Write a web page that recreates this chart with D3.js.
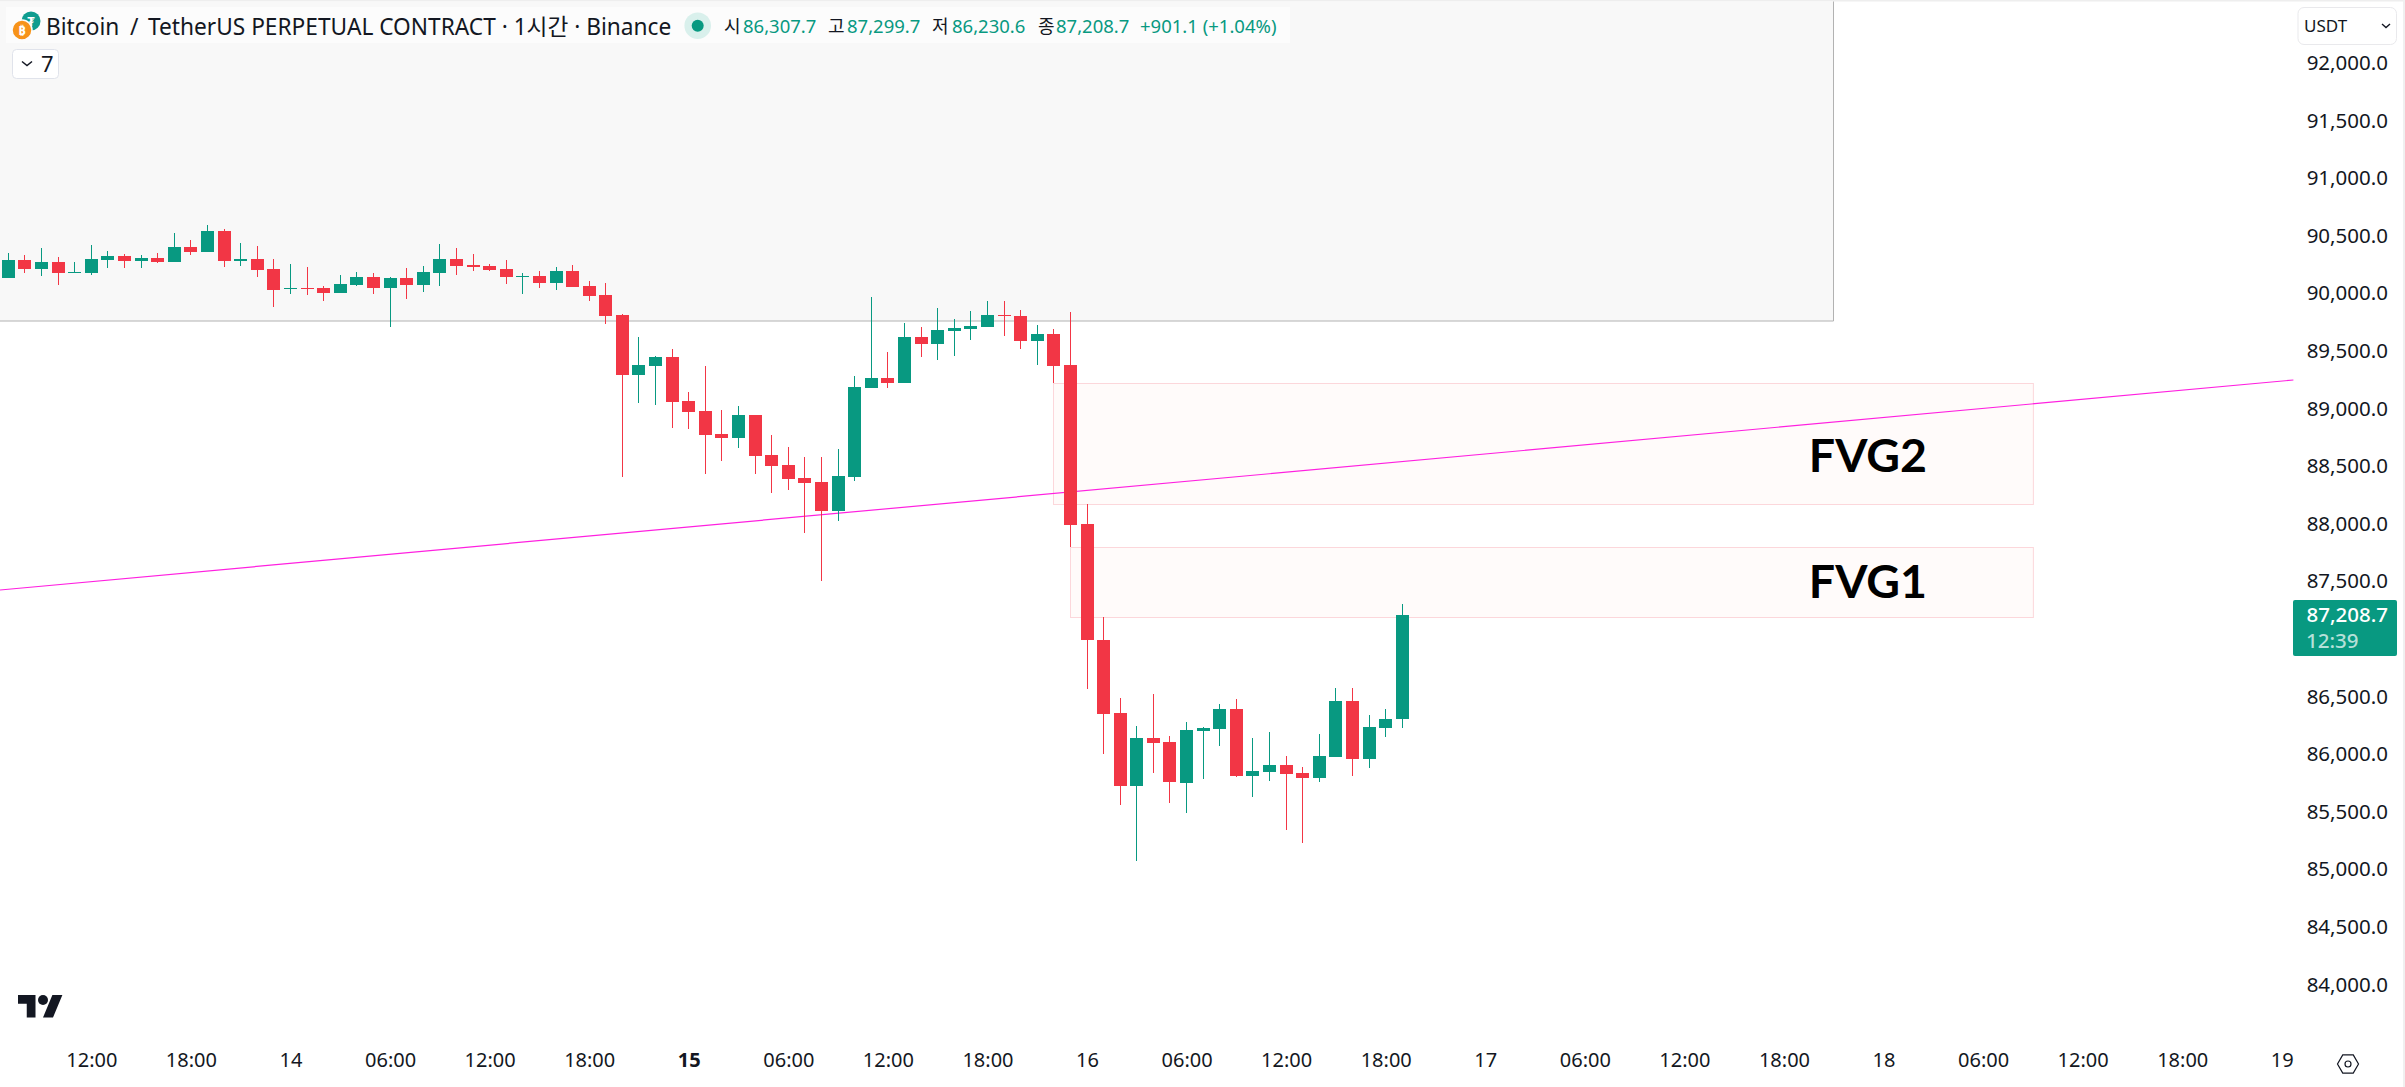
<!DOCTYPE html>
<html><head><meta charset="utf-8">
<script src="https://cdn.jsdelivr.net/npm/d3@7/dist/d3.min.js"></script>
<style>html,body{margin:0;padding:0;background:#fff;overflow:hidden}svg{display:block}
text{font-family:"Noto Sans","Noto Sans CJK KR",sans-serif;fill:#131722}</style>
</head><body><svg id="c" width="2405" height="1087"></svg>
<script>
const opens=[90134,90290,90212,90272,90177,90177,90290,90325,90281,90307,90272,90403,90359,90542,90281,90298,90212,90038,90047,90047,90003,90073,90142,90047,90134,90073,90177,90298,90246,90238,90212,90142,90151,90090,90194,90064,89986,89812,89292,89370,89448,89066,88979,88779,88745,88944,88597,88510,88397,88363,88111,88406,89179,89265,89222,89621,89561,89673,89691,89708,89812,89804,89587,89647,89378,87998,86992,86357,85723,86140,86105,85749,86201,86218,86392,85810,85845,85906,85836,85793,85975,86461,85958,86227,86307.7];
const highs=[90351,90333,90394,90316,90272,90420,90368,90342,90333,90351,90524,90463,90594,90559,90437,90411,90298,90255,90229,90064,90160,90186,90177,90142,90220,90238,90429,90394,90342,90255,90290,90177,90194,90229,90246,90108,90090,89821,89621,89456,89517,89144,89370,88988,89022,88944,88771,88666,88580,88580,88649,89283,89969,89491,89743,89708,89873,89778,89847,89934,89934,89856,89726,89691,89838,88172,87191,86487,86244,86522,86157,86279,86236,86435,86479,86140,86192,85984,85888,86175,86574,86574,86340,86392,87299.7];
const lows=[90134,90177,90151,90073,90177,90160,90220,90220,90220,90264,90272,90333,90359,90229,90238,90142,89882,89995,89986,89934,90003,90064,89995,89708,89951,90012,90064,90160,90194,90194,90082,89995,90047,90029,90055,89934,89734,88406,89048,89031,88831,88823,88432,88545,88658,88432,88267,88293,87920,87503,88024,88371,89179,89179,89222,89448,89422,89456,89595,89708,89630,89517,89378,89222,87798,86567,86001,85558,85072,85836,85576,85489,85784,86071,85802,85628,85767,85341,85229,85758,85975,85810,85880,86149,86230.6];
const closes=[90290,90212,90272,90177,90186,90298,90325,90281,90307,90272,90403,90359,90542,90281,90298,90203,90029,90047,90038,90003,90082,90142,90047,90134,90073,90186,90298,90238,90229,90203,90142,90151,90090,90194,90055,89977,89804,89292,89378,89448,89057,88970,88771,88745,88944,88588,88501,88389,88354,88111,88415,89187,89265,89222,89621,89561,89682,89700,89717,89812,89804,89587,89647,89370,87989,86992,86349,85723,86140,86097,85758,86210,86227,86392,85810,85854,85906,85828,85793,85984,86461,85958,86236,86305,87208.7];
const priceTicks=[92000,91500,91000,90500,90000,89500,89000,88500,88000,87500,86500,86000,85500,85000,84500,84000];
const timeTickHours=[5,11,17,23,29,35,41,47,53,59,65,71,77,83,89,95,101,107,113,119,125,131,137];
const timeTickLabels=["12:00","18:00","14","06:00","12:00","18:00","15","06:00","12:00","18:00","16","06:00","12:00","18:00","17","06:00","12:00","18:00","18","06:00","12:00","18:00","19"];
const zoneNames=["FVG2","FVG1"];
const zoneTop=[89222,87798];
const zoneBottom=[88172,87191];
const zoneStart=[63,64];
const zoneEnd=[122,122];
const zoneLabelPrice=[88449,87355];
const zoneLabelHour=108.5;
const trendHours=[-0.507,137.7];
const trendPrices=[87425,89248];
const lastPrice=87208.7, countdown="12:39";
const titleParts=["Bitcoin","/","TetherUS PERPETUAL CONTRACT · 1시간 · Binance"];
const ohlcLabels=["시","고","저","종"];
const ohlcValues=["86,307.7","87,299.7","86,230.6","87,208.7"];
const changeText="+901.1 (+1.04%)";

const GREEN="#089981",RED="#f23645",INK="#131722";
const svg=d3.select("#c");
const x=d3.scaleLinear().domain([0,84]).range([8.4,1402.3]);
const y=d3.scaleLinear().domain([92000,84000]).range([63,984.5]);

svg.append("rect").attr("width",2405).attr("height",1.5).attr("fill","#eeeeee");
svg.append("rect").attr("x",2403).attr("width",2).attr("height",1087).attr("fill","#f0f0f0");
// grey overlay panel: fill plus right and bottom edges only
svg.append("rect").attr("x",0).attr("y",1.5).attr("width",1833).attr("height",319.5).attr("fill","#f8f8f8");
svg.append("path").attr("d","M0 321H1833.5V1.5").attr("fill","none").attr("stroke","#b2b2b2").attr("stroke-width",1);

// zones
const zones=d3.range(zoneNames.length);
svg.append("g").selectAll("rect").data(zones).join("rect")
  .attr("x",i=>Math.floor(x(zoneStart[i]))+.5).attr("width",i=>x(zoneEnd[i])-Math.floor(x(zoneStart[i])))
  .attr("y",i=>Math.round(y(zoneTop[i]))+.5).attr("height",i=>Math.round(y(zoneBottom[i]))-Math.round(y(zoneTop[i])))
  .attr("fill","#fffbfa").attr("stroke","#fcd7db").attr("stroke-width",1);

// trend line
svg.append("path").attr("d",d3.line().x(d=>x(d)).y((d,i)=>y(trendPrices[i]))(trendHours))
  .attr("fill","none").attr("stroke","#ff20e0").attr("stroke-width",1.2);

svg.append("g").selectAll("text").data(zones).join("text")
  .attr("x",x(zoneLabelHour)).attr("y",i=>y(zoneLabelPrice[i]))
  .style("font-family","Lato").style("font-weight",700).style("font-size","46.5px").style("fill","#000")
  .text(i=>zoneNames[i]);

// candles
const cands=d3.range(opens.length);
const g=svg.append("g").attr("shape-rendering","crispEdges");
const col=i=>closes[i]>=opens[i]?GREEN:RED;
g.selectAll("line").data(cands).join("line")
  .attr("x1",i=>Math.floor(x(i))+.5).attr("x2",i=>Math.floor(x(i))+.5)
  .attr("y1",i=>y(highs[i])).attr("y2",i=>y(lows[i])).attr("stroke",col).attr("stroke-width",1);
g.selectAll("rect").data(cands).join("rect")
  .attr("x",i=>Math.floor(x(i))-6).attr("width",13)
  .attr("y",i=>y(Math.max(opens[i],closes[i])))
  .attr("height",i=>Math.max(1,y(Math.min(opens[i],closes[i]))-y(Math.max(opens[i],closes[i]))))
  .attr("fill",col);

// axes
const ya=svg.append("g").attr("transform","translate(2388,0)")
  .call(d3.axisLeft(y).tickValues(priceTicks).tickSize(0).tickPadding(0).tickFormat(d3.format(",.1f")));
ya.select(".domain").remove();
ya.selectAll("text").style("font-family",'"Noto Sans"').style("font-size","20.5px").style("fill",INK);
const xa=svg.append("g").attr("transform","translate(0,1053)")
  .call(d3.axisBottom(x).tickValues(timeTickHours).tickSize(0).tickPadding(0).tickFormat((d,i)=>timeTickLabels[i]));
xa.select(".domain").remove();
xa.selectAll("text").style("font-family",'"Noto Sans"').style("font-size","20px").style("fill",INK)
  .style("font-weight",(d,i)=>timeTickLabels[i]==="15"?700:400);

// price tag
svg.append("rect").attr("x",2293).attr("y",600).attr("width",104).attr("height",56).attr("rx",2).attr("fill",GREEN);
svg.append("text").attr("x",2388).attr("y",622).attr("text-anchor","end")
  .style("font-size","20.5px").style("font-weight",500).style("fill","#fff").text(d3.format(",.1f")(lastPrice));
svg.append("text").attr("x",2306).attr("y",648)
  .style("font-size","20.5px").style("font-weight",500).style("fill","#b5e0d9").text(countdown);
// USDT button
svg.append("rect").attr("x",2298).attr("y",7.5).attr("width",98.5).attr("height",37).attr("rx",6).attr("fill","#fff").attr("stroke","#e9e9ec");
svg.append("text").attr("x",2304).attr("y",32).style("font-size","17px").text("USDT");
svg.append("path").attr("d","M2382 24l4 3.5 4-3.5").attr("fill","none").attr("stroke",INK).attr("stroke-width",1.4);
// settings icon
svg.append("path").attr("d",d3.lineRadial().curve(d3.curveLinearClosed).angle(d=>(d+.5)*Math.PI/3).radius(10.5)([0,1,2,3,4,5]))
  .attr("transform","translate(2348,1064)").attr("fill","none").attr("stroke",INK).attr("stroke-width",1.2);
svg.append("circle").attr("cx",2348).attr("cy",1064).attr("r",3).attr("fill","none").attr("stroke",INK).attr("stroke-width",1.2);
// TV logo
svg.append("path").attr("transform","translate(18,990) scale(1.25)").attr("fill",INK)
  .attr("d","M14 22H7V11H0V4h14v18zM28 22h-8l7.5-18h8L28 22z");
svg.append("circle").attr("transform","translate(18,990) scale(1.25)").attr("cx",20).attr("cy",8).attr("r",4).attr("fill",INK);

// header
svg.append("rect").attr("x",6).attr("y",7).attr("width",1284).attr("height",36).attr("fill","#fcfcfc");
svg.append("circle").attr("cx",31).attr("cy",21).attr("r",9.5).attr("fill","#0f9d8f");
svg.append("text").attr("x",31).attr("y",26).attr("text-anchor","middle").style("font-size","13px").style("font-weight",700).style("fill","#fff").text("₮");
svg.append("circle").attr("cx",22).attr("cy",30).attr("r",10).attr("fill","#f7931a").attr("stroke","#fcfcfc").attr("stroke-width",1.5);
svg.append("text").attr("x",22).attr("y",35).attr("text-anchor","middle").style("font-size","13px").style("font-weight",700).style("fill","#fff").text("₿");
const tf='"Noto Sans","Noto Sans CJK KR"';
[[46,titleParts[0]],[130,titleParts[1]],[148,titleParts[2]]].forEach(([px,t])=>
  svg.append("text").attr("x",px).attr("y",34.5).style("font-family",tf).style("font-size","22.7px").text(t));
svg.append("circle").attr("cx",697.7).attr("cy",25.7).attr("r",13.3).attr("fill","#d9f0ec");
svg.append("circle").attr("cx",697.7).attr("cy",25.7).attr("r",6).attr("fill",GREEN);
const lx=[724,828,932,1038], vx=[743,847,952,1056];
ohlcLabels.forEach((l,i)=>{
  svg.append("text").attr("x",lx[i]).attr("y",33).style("font-size","18px").text(l);
  svg.append("text").attr("x",vx[i]).attr("y",33).style("font-size","18.5px").style("fill",GREEN).text(ohlcValues[i]);
});
svg.append("text").attr("x",1140).attr("y",33).style("font-size","18.5px").style("fill",GREEN).text(changeText);
// collapse button
svg.append("rect").attr("x",12.5).attr("y",49.5).attr("width",46).attr("height",29).attr("rx",4).attr("fill","#fff").attr("stroke","#e0e3eb");
svg.append("path").attr("d","M22 61.5l5 4 5-4").attr("fill","none").attr("stroke",INK).attr("stroke-width",1.5);
svg.append("text").attr("x",41).attr("y",72).style("font-size","22px").text("7");
</script></body></html>
